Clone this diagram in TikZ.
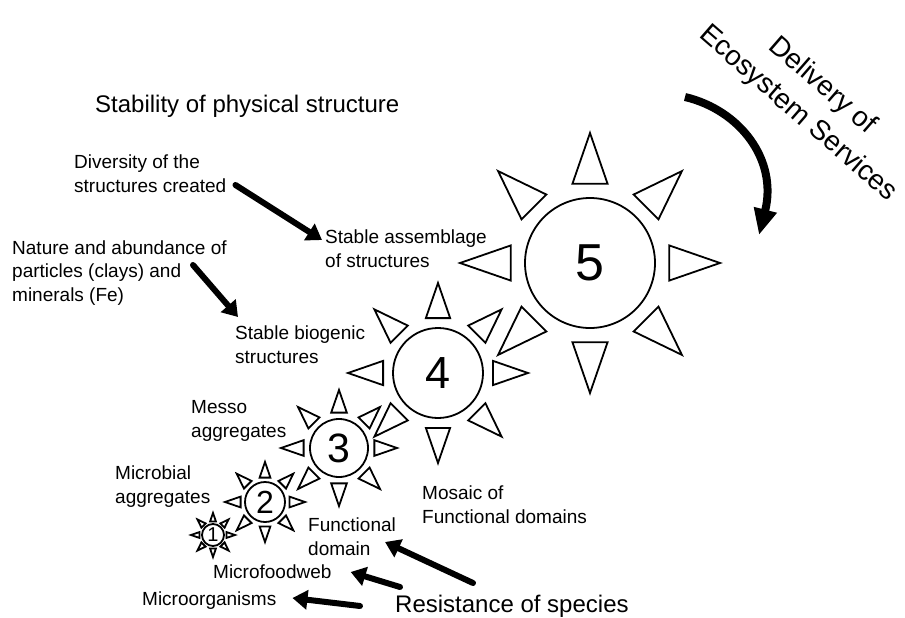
\documentclass[tikz,border=0pt]{standalone}
\usepackage{fontspec}
\setmainfont{Liberation Sans}
\usetikzlibrary{arrows.meta}
\newcommand\drawsunrays[2]{%
  \foreach \ang in {0,45,...,315}{%
    \draw[suntri, shift={(#1.center)}, rotate=\ang] (1.22*#2, 0.27*#2) -- (2.0*#2, 0) -- (1.22*#2, -0.27*#2) -- cycle;
  }}
\begin{document}
\begin{tikzpicture}[x=1pt,y=-1pt,
  lbl/.style={anchor=base west, inner sep=0pt, align=left, font=\fontsize{19}{23.5}\selectfont},
  big/.style={anchor=base west, inner sep=0pt, font=\fontsize{24}{28}\selectfont},
  sunc/.style={circle, draw, line width=1.8pt, inner sep=0pt},
  suntri/.style={draw, line width=1.8pt, line join=miter},
  thickarrow/.style={line width=6pt, line cap=round, -{Triangle[length=15pt,width=19pt]}},
  curvearrow/.style={line width=8pt, -{Triangle[length=26pt,width=22pt]}}
]
\useasboundingbox (0,0) rectangle (905,618);

% suns
\node[sunc, minimum size=130pt, font=\fontsize{52}{52}\selectfont] (s5) at (590,263) {5};
\node[sunc, minimum size=90pt, font=\fontsize{45}{45}\selectfont] (s4) at (438,373) {4};
\node[sunc, minimum size=58pt, font=\fontsize{41}{41}\selectfont] (s3) at (339,448) {3};
\node[sunc, minimum size=40pt, font=\fontsize{32}{32}\selectfont] (s2) at (265,502) {2};
\node[sunc, minimum size=22pt, font=\fontsize{20}{20}\selectfont] (s1) at (213,535) {1};
\drawsunrays{s5}{65}
\drawsunrays{s4}{45}
\drawsunrays{s3}{29}
\drawsunrays{s2}{20}
\drawsunrays{s1}{11}

% texts (base = baseline of the last line)
\node[big] (stab) at (95,112) {Stability of physical structure};
\node[lbl] (div) at (74,192) {Diversity of the\\structures created};
\node[lbl] (nat) at (12,301) {Nature and abundance of\\particles (clays) and\\minerals (Fe)};
\node[lbl] (asm) at (325,267) {Stable assemblage\\of structures};
\node[lbl] (bio) at (235,363) {Stable biogenic\\structures};
\node[lbl] (mes) at (191,437) {Messo\\aggregates};
\node[lbl] (mic) at (115,503) {Microbial\\aggregates};
\node[lbl] (mos) at (422,523) {Mosaic of\\Functional domains};
\node[lbl] (fd) at (308,555) {Functional\\domain};
\node[lbl] (mfw) at (213,578) {Microfoodweb};
\node[lbl] (mor) at (142,605) {Microorganisms};
\node[big] (res) at (395,612) {Resistance of species};
\node[font=\fontsize{28}{37}\selectfont, align=center, rotate=-41, inner sep=0pt] (del) at (810,100) {Delivery of\\Ecosystem Services};

% straight arrows
\draw[thickarrow] ([shift={(9,-7)}]div.base east) -- ([shift={(-3,-27)}]asm.base west);
\draw[thickarrow] ([shift={(181,-36)}]nat.base west) -- ([shift={(3,-46)}]bio.base west);
\draw[thickarrow] ([shift={(78,-29)}]res.base west) -- ([shift={(77,-13)}]fd.base west);
\draw[thickarrow] ([shift={(5,-25)}]res.base west) -- ([shift={(19,-6)}]mfw.base east);
\draw[thickarrow] ([shift={(-35,-6)}]res.base west) -- ([shift={(16,-7)}]mor.base east);

% curved arrow
\coordinate (cs) at (685,97);
\coordinate (ce) at (759,235);
\draw[curvearrow] (cs) .. controls (740,110) and (778,160) .. (ce);
\end{tikzpicture}
\end{document}
